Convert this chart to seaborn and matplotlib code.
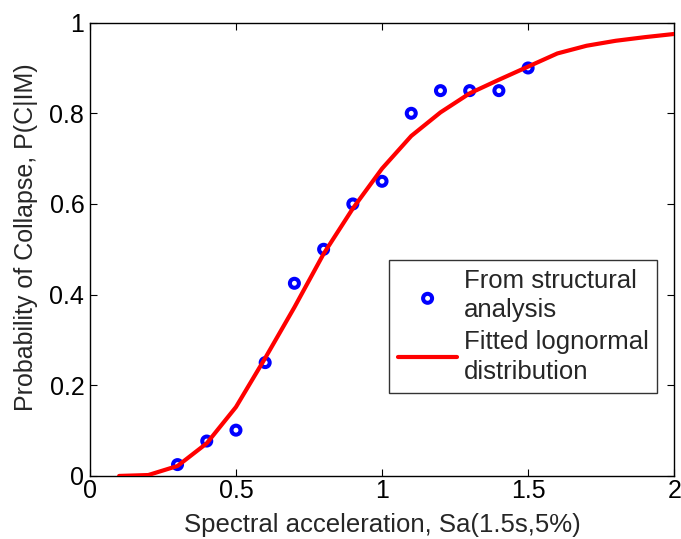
import matplotlib
matplotlib.use("Agg")
import matplotlib.pyplot as plt
import seaborn as sns
import pandas as pd

# Observed data (from structural analysis)
sa_obs = [0.3, 0.4, 0.5, 0.6, 0.7, 0.8, 0.9, 1.0, 1.1, 1.2, 1.3, 1.4, 1.5]
p_obs = [0.025, 0.077, 0.101, 0.25, 0.425, 0.5, 0.6, 0.65, 0.8, 0.85, 0.85, 0.85, 0.9]

# Fitted lognormal curve
sa_fit = [0.1, 0.2, 0.3, 0.4, 0.5, 0.6, 0.7, 0.8, 0.9, 1.0,
          1.1, 1.2, 1.3, 1.4, 1.5, 1.6, 1.7, 1.8, 1.9, 2.0]
p_fit = [0.0, 0.002, 0.022, 0.072, 0.152, 0.26, 0.372, 0.49, 0.59, 0.678,
         0.75, 0.802, 0.844, 0.874, 0.903, 0.932, 0.949, 0.960, 0.968, 0.975]

xticks = [0, 0.5, 1, 1.5, 2]
yticks = [0, 0.2, 0.4, 0.6, 0.8, 1]
xtick_labels = ["0", "0.5", "1", "1.5", "2"]
ytick_labels = ["0", "0.2", "0.4", "0.6", "0.8", "1"]

sns.set_style("ticks")
plt.rcParams["font.family"] = ["Liberation Sans", "DejaVu Sans"]

fig = plt.figure(figsize=(6.81, 5.39), dpi=100)
ax = fig.add_axes([0.132, 0.117, 0.858, 0.841])

df_obs = pd.DataFrame({"sa": sa_obs, "p": p_obs})
df_fit = pd.DataFrame({"sa": sa_fit, "p": p_fit})

sns.scatterplot(data=df_obs, x="sa", y="p", ax=ax, marker="o", s=42,
                facecolor="none", edgecolor="#0000ff", linewidth=2.9,
                label="From structural\nanalysis", zorder=3)
sns.lineplot(data=df_fit, x="sa", y="p", ax=ax, color="#ff0000", linewidth=3,
             label="Fitted lognormal\ndistribution", zorder=4)

ax.set_xlim(0, 2)
ax.set_ylim(0, 1)
ax.set_xticks(xticks)
ax.set_xticklabels(xtick_labels)
ax.set_yticks(yticks)
ax.set_yticklabels(ytick_labels)
ax.tick_params(direction="in", top=True, right=True, length=5, width=0.8,
               labelsize=18, colors="black")
ax.tick_params(axis="x", pad=2)
ax.tick_params(axis="y", pad=4)
for s in ax.spines.values():
    s.set_visible(True)
    s.set_linewidth(1.0)
    s.set_color("black")

ax.set_xlabel("Spectral acceleration, Sa(1.5s,5%)", fontsize=18.5)
ax.set_ylabel("Probability of Collapse, P(C|IM)", fontsize=18)
ax.xaxis.set_label_coords(0.5, -0.082)
ax.xaxis.label.set_va("top")
ax.yaxis.set_label_coords(-0.088, 0.527)

leg = ax.legend(loc="upper left", bbox_to_anchor=(0.512, 0.477), fontsize=18.5,
                frameon=True, fancybox=False, edgecolor="black",
                handlelength=2.3, handletextpad=0.25, borderpad=0.35,
                borderaxespad=0, labelspacing=0.3)
for t in leg.get_texts():
    t.set_linespacing(1.3)
leg.get_frame().set_linewidth(1.0)

fig.savefig("out.png", dpi=100)
